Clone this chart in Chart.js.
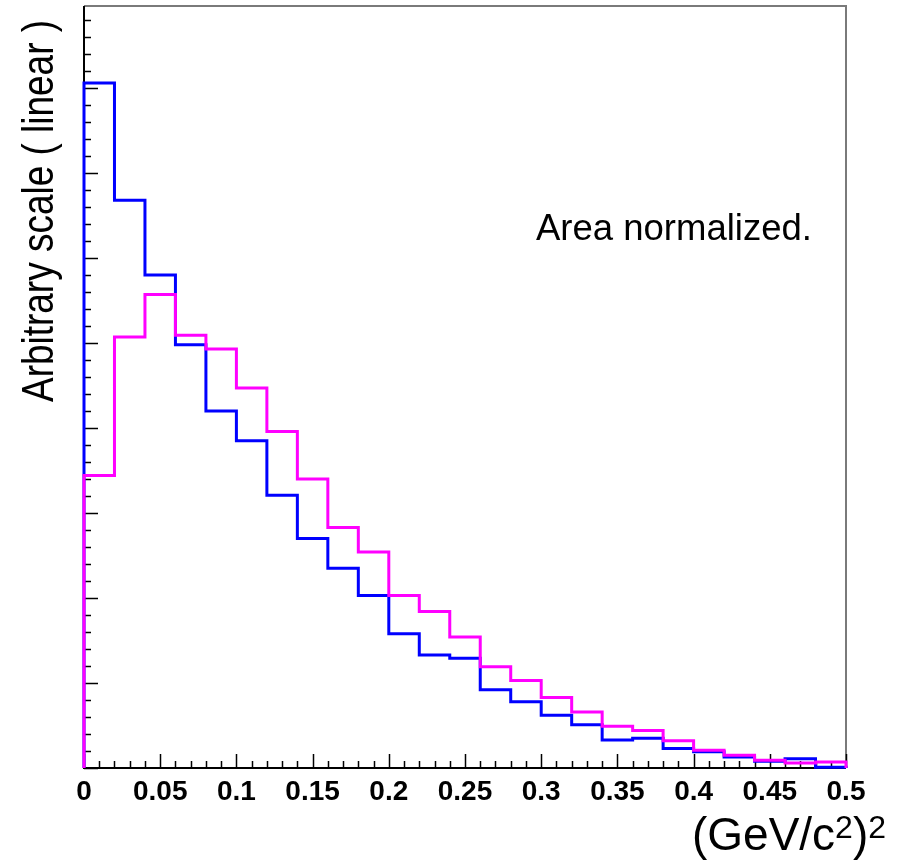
<!DOCTYPE html>
<html>
<head>
<meta charset="utf-8">
<script src="https://cdn.jsdelivr.net/npm/chart.js@4.4.1/dist/chart.umd.min.js"></script>
<style>
  html, body { margin: 0; padding: 0; background: #fff; }
  canvas { display: block; }
</style>
</head>
<body>
<canvas id="histo" width="899" height="865"></canvas>
<script>
// histogram settings (0 - 0.5, 25 bins)
const xMin = 0;
const xMax = 0.5;
const binWidth = 0.02;
const yMax = 8.965; // arbitrary units, one major tick = 1

// bin contents
const blueVals = [8.06, 6.68, 5.80, 4.98, 4.20, 3.85, 3.21, 2.70, 2.35, 2.03,
                  1.58, 1.33, 1.29, 0.92, 0.78, 0.62, 0.51, 0.33, 0.35, 0.23,
                  0.19, 0.13, 0.08, 0.11, 0.01];
const magentaVals = [3.44, 5.07, 5.57, 5.09, 4.93, 4.47, 3.96, 3.40, 2.83, 2.54,
                     2.03, 1.84, 1.54, 1.19, 1.03, 0.83, 0.66, 0.49, 0.44, 0.32,
                     0.21, 0.15, 0.09, 0.06, 0.07];

// axis labels
const xTickLabels = ['0', '0.05', '0.1', '0.15', '0.2', '0.25', '0.3', '0.35', '0.4', '0.45', '0.5'];
const yTitle = 'Arbitrary scale ( linear )';
const noteText = 'Area normalized.';

const fontFam = "'Liberation Sans', Arial, Helvetica, sans-serif";

// turn bin contents into the outline of a histogram
function histoOutline(vals) {
    const pts = [{ x: xMin, y: 0 }];
    vals.forEach((v, i) => {
        const lo = xMin + i * binWidth;
        pts.push({ x: lo, y: v });
        pts.push({ x: lo + binWidth, y: v });
    });
    pts.push({ x: xMax, y: 0 });
    return pts;
}

// axes, ticks, frame (drawn under the lines)
const rootAxes = {
    id: 'rootAxes',
    beforeDatasetsDraw(chart) {
        const ctx = chart.ctx;
        const a = chart.chartArea;
        const xs = chart.scales.x;
        const ys = chart.scales.y;
        ctx.save();

        // grey frame top/right
        ctx.strokeStyle = '#7a7a7a';
        ctx.lineWidth = 2;
        ctx.beginPath();
        ctx.moveTo(a.left, a.top);
        ctx.lineTo(a.right, a.top);
        ctx.lineTo(a.right, a.bottom);
        ctx.stroke();

        ctx.strokeStyle = '#000';
        ctx.lineWidth = 1.5;
        ctx.beginPath();
        // x ticks: minor every 0.01, major every 0.05
        for (let k = 0; k <= 50; k++) {
            const px = Math.round(xs.getPixelForValue(k * 0.01)) + 0.5;
            const len = (k % 5 === 0) ? 14 : 7;
            ctx.moveTo(px, a.bottom);
            ctx.lineTo(px, a.bottom - len);
        }
        // y ticks: minor every 0.2, major every 1
        for (let k = 0; k * 0.2 <= yMax; k++) {
            const py = Math.round(ys.getPixelForValue(k * 0.2)) + 0.5;
            const len = (k % 5 === 0) ? 14 : 7;
            ctx.moveTo(a.left, py);
            ctx.lineTo(a.left + len, py);
        }
        ctx.stroke();

        // axis lines
        ctx.lineWidth = 2;
        ctx.beginPath();
        ctx.moveTo(a.left, a.top);
        ctx.lineTo(a.left, a.bottom);
        ctx.lineTo(a.right, a.bottom);
        ctx.stroke();
        ctx.restore();
    },
    afterDraw(chart) {
        const ctx = chart.ctx;
        const xs = chart.scales.x;
        ctx.save();
        ctx.fillStyle = '#000';

        // x tick labels
        ctx.font = 'bold 28px ' + fontFam;
        ctx.textAlign = 'center';
        ctx.textBaseline = 'alphabetic';
        xTickLabels.forEach(t => {
            ctx.fillText(t, xs.getPixelForValue(parseFloat(t)), 800);
        });

        // x title (GeV/c2)2, right aligned
        const big = '46px ' + fontFam;
        const small = '32px ' + fontFam;
        const parts = [['(GeV/c', big, 0], ['2', small, -12], [')', big, 0], ['2', small, -12]];
        ctx.textAlign = 'left';
        let w = 0;
        parts.forEach(p => { ctx.font = p[1]; w += ctx.measureText(p[0]).width; });
        let cx = 886 - w;
        parts.forEach(p => {
            ctx.font = p[1];
            ctx.fillText(p[0], cx, 850 + p[2]);
            cx += ctx.measureText(p[0]).width;
        });

        // note text
        ctx.font = '36.5px ' + fontFam;
        ctx.fillText(noteText, 536, 240);

        // y title, rotated and a bit narrow
        ctx.save();
        ctx.translate(53, 402);
        ctx.rotate(-Math.PI / 2);
        ctx.scale(0.84, 1);
        ctx.font = '44px ' + fontFam;
        ctx.textAlign = 'left';
        ctx.fillText(yTitle, 0, 0);
        ctx.restore();

        ctx.restore();
    }
};

const ctxHisto = document.getElementById('histo').getContext('2d');

new Chart(ctxHisto, {
    type: 'line',
    data: {
        datasets: [
            {
                label: 'magenta',
                data: histoOutline(magentaVals),
                borderColor: '#ff00ff',
                borderWidth: 3,
                pointRadius: 0,
                fill: false,
                tension: 0,
                borderJoinStyle: 'miter',
                clip: false,
                order: 0
            },
            {
                label: 'blue',
                data: histoOutline(blueVals),
                borderColor: '#0000ff',
                borderWidth: 3,
                pointRadius: 0,
                fill: false,
                tension: 0,
                borderJoinStyle: 'miter',
                clip: false,
                order: 1
            }
        ]
    },
    options: {
        responsive: false,
        animation: false,
        layout: { padding: { left: 84, right: 53, top: 6, bottom: 97 } },
        plugins: {
            legend: { display: false },
            tooltip: { enabled: false }
        },
        scales: {
            x: { type: 'linear', min: xMin, max: xMax, display: false },
            y: { type: 'linear', min: 0, max: yMax, display: false }
        }
    },
    plugins: [rootAxes]
});
</script>
</body>
</html>
